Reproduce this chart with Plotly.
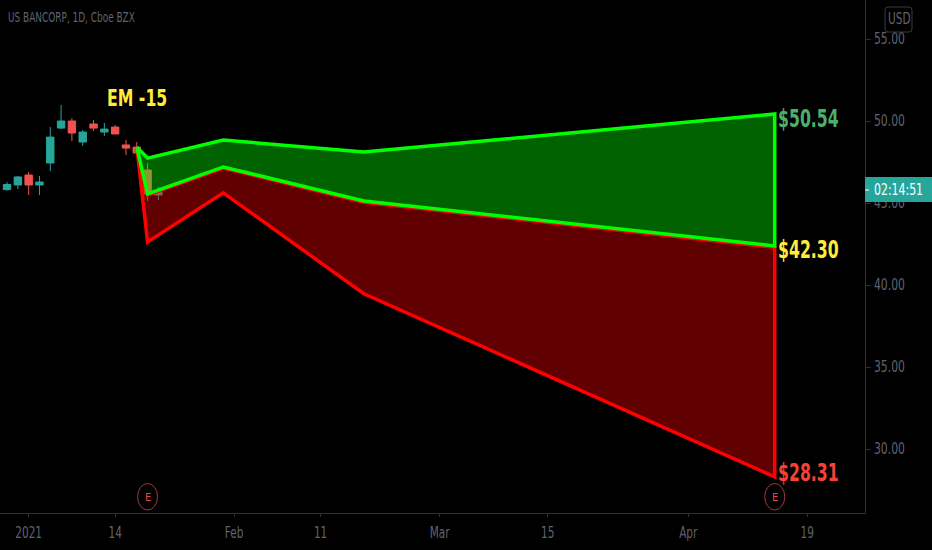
import pandas as pd
import plotly.graph_objects as go

W, H = 932, 550
ML, MR, MT, MB = 0, 67, 0, 37
FONT = "DejaVu Sans Condensed, DejaVu Sans, sans-serif"

# trading calendar (category positions)
holidays = ["2021-01-01", "2021-01-18", "2021-02-15", "2021-04-02"]
dates = [d.strftime("%Y-%m-%d") for d in pd.bdate_range("2020-12-30", "2021-04-30")
         if d.strftime("%Y-%m-%d") not in holidays]

candle_dates = dates[:15]
opens  = [45.82, 46.10, 46.71, 46.10, 47.44, 49.57, 50.00, 48.72, 49.82, 49.33, 49.63, 48.54, 48.41, 47.01, 45.49]
closes = [46.13, 46.59, 46.10, 46.28, 49.02, 50.00, 49.27, 49.33, 49.57, 49.51, 49.21, 48.35, 48.05, 45.55, 45.67]
highs  = [46.28, 46.65, 46.89, 46.65, 49.63, 50.98, 50.18, 49.45, 50.06, 49.88, 49.76, 48.84, 48.72, 47.44, 45.98]
lows   = [45.76, 45.85, 45.49, 45.49, 46.95, 49.51, 48.78, 48.48, 49.39, 49.09, 49.21, 47.93, 47.93, 45.12, 45.18]

band_dates = ["2021-01-19", "2021-01-20", "2021-01-29", "2021-02-18", "2021-04-14"]
upper = [48.41, 47.74, 48.84, 48.11, 50.43]
mid   = [48.41, 45.56, 47.20, 45.12, 42.38]
lower = [48.41, 42.62, 45.62, 39.47, 28.30]
mid_red = [48.41, 45.50, 47.13, 45.05, 42.30]

tick_vals = ["2021-01-04", "2021-01-14", "2021-02-01", "2021-02-11", "2021-03-01", "2021-03-15", "2021-04-01", "2021-04-19"]
tick_text = ["2021", "14", "Feb", "11", "Mar", "15", "Apr", "19"]
price_ticks = [30, 35, 40, 45, 50, 55]
earnings_dates = ["2021-01-20", "2021-04-14"]

TEAL, CORAL = "#26a69a", "#ef5350"
GREY = "#5f636e"
LINE = "#2a2e39"


def px(x):
    return x / (W - ML - MR)


def py(y):
    return 1 - y / (H - MT - MB)


fig = go.Figure()
fig.add_trace(go.Candlestick(
    x=candle_dates, open=opens, high=highs, low=lows, close=closes,
    increasing=dict(line=dict(color=TEAL, width=1), fillcolor=TEAL),
    decreasing=dict(line=dict(color=CORAL, width=1), fillcolor=CORAL),
    whiskerwidth=0, showlegend=False, hoverinfo="skip",
))


def band(top, bottom, line, fill):
    xs = band_dates + band_dates[::-1] + band_dates[:1]
    ys = top + bottom[::-1] + top[:1]
    fig.add_trace(go.Scatter(x=xs, y=ys, mode="lines", fill="toself", fillcolor=fill,
                             line=dict(color=line, width=3.5), showlegend=False,
                             hoverinfo="skip"))


band(mid_red, lower, "#ff0000", "rgba(255,0,0,0.38)")
band(upper, mid, "#00ff00", "rgba(0,255,0,0.39)")


def label(text, x, y, size, color):
    return dict(text=text, xref="paper", yref="paper", x=px(x), y=py(y), xanchor="left",
                yanchor="middle", showarrow=False, font=dict(family=FONT, size=size, color=color))


anns = [
    label("US BANCORP, 1D, Cboe BZX", 6, 17, 14, GREY),
    label("<b>EM -15</b>", 105, 98, 23, "#ffeb3b"),
    label("<b>$50.54</b>", 776, 119, 25, "#4caf6a"),
    label("<b>$42.30</b>", 776, 249, 25, "#ffeb3b"),
    label("<b>$28.31</b>", 776, 472, 25, "#f44336"),
    label("USD", 886, 19.5, 15, GREY),
    label("02:14:51", 872, 189.5, 15, "#ffffff"),
]
for d in earnings_dates:
    anns.append(dict(text="E", x=d, y=py(497), xref="x", yref="paper", xanchor="center",
                     yanchor="middle", showarrow=False, font=dict(family=FONT, size=11, color="#e0474c")))

shapes = [
    dict(type="path", xref="paper", yref="paper", layer="above",
         path=(f"M {px(888)} {py(7)} L {px(909)} {py(7)} Q {px(912)} {py(7)} {px(912)} {py(10)} "
               f"L {px(912)} {py(29)} Q {px(912)} {py(32)} {px(909)} {py(32)} L {px(888)} {py(32)} "
               f"Q {px(885)} {py(32)} {px(885)} {py(29)} L {px(885)} {py(10)} Q {px(885)} {py(7)} {px(888)} {py(7)} Z"),
         line=dict(color="#363a45", width=1)),
    dict(type="rect", xref="paper", yref="paper", layer="above", x0=1, x1=px(932), y0=py(202), y1=py(177),
         fillcolor="#26a69a", line=dict(width=0)),
    dict(type="line", xref="paper", yref="paper", layer="above", x0=1, x1=px(869), y0=py(190), y1=py(190),
         line=dict(color="#ffffff", width=1)),
]
for d in earnings_dates:
    shapes.append(dict(type="circle", xref="x", yref="paper", xsizemode="pixel", xanchor=d,
                       x0=-10, x1=10, y0=py(483.5), y1=py(510),
                       line=dict(color="#a8393c", width=1), fillcolor="rgba(0,0,0,0)"))

fig.update_layout(
    width=W, height=H, margin=dict(l=ML, r=MR, t=MT, b=MB, autoexpand=False),
    paper_bgcolor="#000000", plot_bgcolor="#000000", showlegend=False,
    annotations=anns, shapes=shapes, boxgap=0.02,
    xaxis=dict(type="category", categoryorder="array", categoryarray=dates,
               range=[-0.65, 79.35], rangeslider=dict(visible=False),
               tickmode="array", tickvals=tick_vals, ticktext=tick_text,
               showgrid=False, zeroline=False, showline=True, linecolor=LINE, linewidth=1,
               ticks="outside", ticklen=3, tickcolor=LINE, ticklabelstandoff=3,
               tickfont=dict(family=FONT, size=15, color=GREY)),
    yaxis=dict(side="right", range=[26.10, 57.38], tickmode="array", tickvals=price_ticks,
               tickformat=".2f", showgrid=False, zeroline=False, showline=True,
               linecolor=LINE, linewidth=1, ticks="outside", ticklen=5, tickcolor=LINE,
               tickfont=dict(family=FONT, size=15, color=GREY)),
)

# The reference's lettering is narrower than any installed face: squeeze text horizontally.
squeeze_js = """
document.body.style.margin='0';
document.body.style.background='#000';
function squeeze(t,s,centre){
  var b=t.getBBox(), ox=centre?b.x+b.width/2:b.x, cur=t.getAttribute('transform')||'';
  t.setAttribute('transform',cur+' translate('+ox+' 0) scale('+s+' 1) translate('+(-ox)+' 0)');
}
var scales={'US BANCORP, 1D, Cboe BZX':0.71,'EM -15':0.76,'$50.54':0.70,'$42.30':0.70,'$28.31':0.70,'USD':0.78,'02:14:51':0.81};
document.querySelectorAll('.annotation-text').forEach(function(t){
  var s=scales[t.textContent]; if(s){squeeze(t,s,false);}
});
document.querySelectorAll('.xtick text').forEach(function(t){squeeze(t,0.78,true);});
document.querySelectorAll('.ytick text').forEach(function(t){squeeze(t,0.8,false);});
"""
fig.write_html("out.html", config=dict(displayModeBar=False), post_script=squeeze_js)
